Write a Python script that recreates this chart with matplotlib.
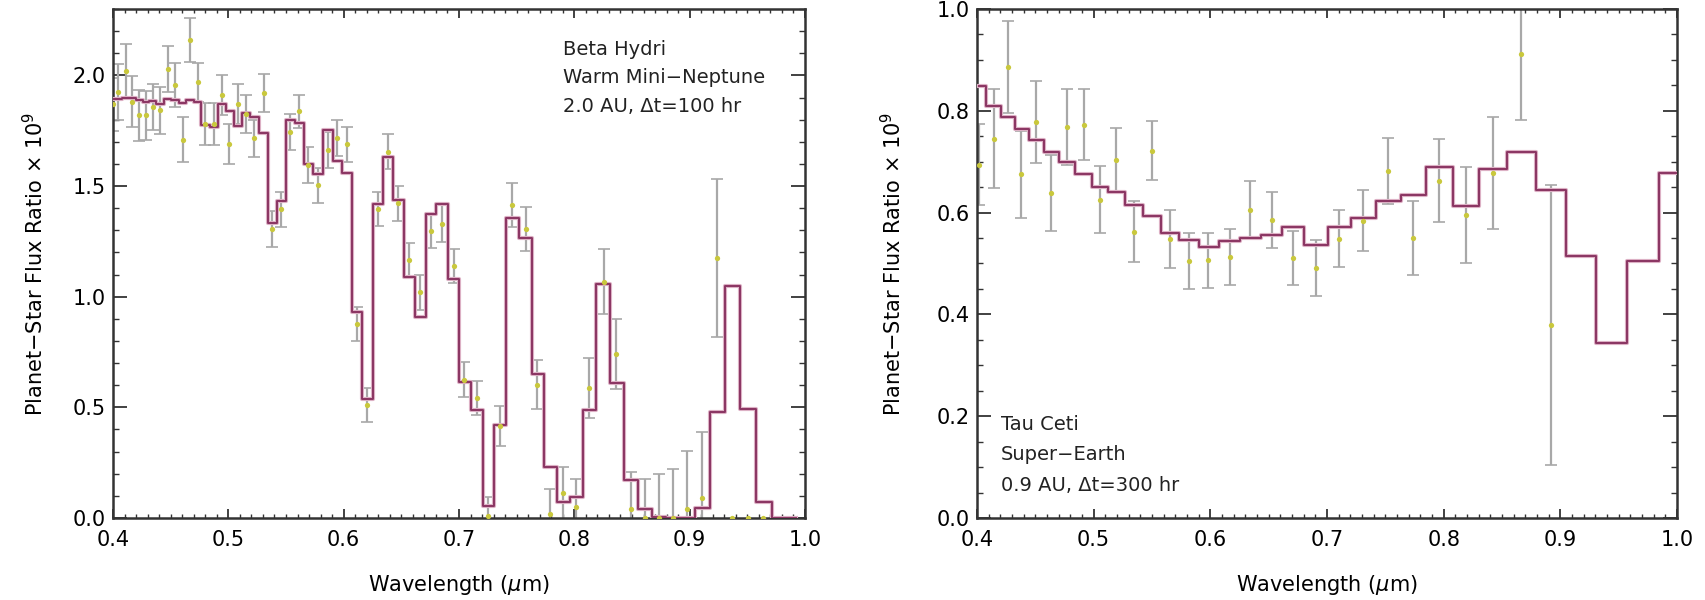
import matplotlib
matplotlib.use('Agg')
import matplotlib.pyplot as plt
from matplotlib.ticker import MultipleLocator
import numpy as np

# Beta Hydri, warm mini-Neptune: binned spectrum + model
wl_beta = [0.400, 0.4046, 0.411, 0.4168, 0.4228, 0.4286, 0.4344, 0.4408, 0.4474, 0.454,
           0.4604, 0.4668, 0.4734, 0.480, 0.4876, 0.4945, 0.5009, 0.5081, 0.5153, 0.5226,
           0.5307, 0.5382, 0.546, 0.5535, 0.5613, 0.5694, 0.5781, 0.5862, 0.5946, 0.603,
           0.6113, 0.6206, 0.6296, 0.6382, 0.6475, 0.657, 0.6663, 0.6758, 0.685, 0.6957,
           0.7047, 0.7154, 0.7255, 0.7356, 0.7463, 0.7579, 0.768, 0.779, 0.7906, 0.8013,
           0.8131, 0.8253, 0.8363, 0.849, 0.8617, 0.873, 0.8854, 0.8976, 0.9111, 0.924,
           0.9366, 0.951, 0.964]
flux_beta = [1.87, 1.925, 2.02, 1.88, 1.82, 1.82, 1.856, 1.842, 2.03, 1.955,
             1.71, 2.16, 1.968, 1.78, 1.78, 1.91, 1.69, 1.87, 1.826, 1.715,
             1.92, 1.305, 1.395, 1.745, 1.838, 1.595, 1.503, 1.662, 1.718, 1.688,
             0.877, 0.509, 1.395, 1.655, 1.422, 1.167, 1.019, 1.297, 1.33, 1.137,
             0.625, 0.542, 0.01, 0.414, 1.414, 1.305, 0.602, 0.02, 0.114, 0.051,
             0.587, 1.068, 0.742, 0.04, 0.0, 0.0, 0.0, 0.039, 0.089, 1.173,
             0.0, 0.0, 0.0]
err_beta = [0.12, 0.125, 0.12, 0.115, 0.115, 0.11, 0.105, 0.105, 0.105, 0.10,
            0.10, 0.098, 0.09, 0.093, 0.094, 0.09, 0.09, 0.09, 0.085, 0.085,
            0.085, 0.08, 0.08, 0.08, 0.075, 0.08, 0.08, 0.08, 0.08, 0.08,
            0.077, 0.077, 0.077, 0.08, 0.08, 0.077, 0.077, 0.079, 0.083, 0.077,
            0.079, 0.078, 0.085, 0.09, 0.098, 0.10, 0.11, 0.11, 0.117, 0.124,
            0.137, 0.146, 0.158, 0.168, 0.176, 0.197, 0.22, 0.264, 0.30, 0.357,
            0.0, 0.0, 0.0]
model_wl_beta = wl_beta + [0.978, 0.992]
model_beta = [1.895, 1.895, 1.90, 1.90, 1.89, 1.88, 1.885, 1.87, 1.895, 1.888,
              1.876, 1.89, 1.88, 1.777, 1.765, 1.87, 1.84, 1.77, 1.83, 1.81,
              1.74, 1.335, 1.432, 1.80, 1.785, 1.60, 1.553, 1.755, 1.613, 1.557,
              0.929, 0.536, 1.417, 1.63, 1.437, 1.087, 0.907, 1.372, 1.417, 1.08,
              0.615, 0.49, 0.055, 0.42, 1.357, 1.264, 0.65, 0.23, 0.072, 0.094,
              0.487, 1.057, 0.61, 0.171, 0.039, 0.005, 0.0, 0.0, 0.046, 0.479,
              1.05, 0.494, 0.073, 0.0, 0.0]

# Tau Ceti, super-Earth
wl_tau = [0.402, 0.4142, 0.4265, 0.438, 0.4508, 0.4637, 0.4771, 0.4914, 0.5052, 0.5189,
          0.5343, 0.55, 0.5652, 0.5818, 0.5981, 0.6167, 0.6339, 0.6525, 0.6706, 0.6906,
          0.7106, 0.7312, 0.7521, 0.7741, 0.7964, 0.8191, 0.8422, 0.8665, 0.892]
flux_tau = [0.694, 0.745, 0.886, 0.675, 0.778, 0.638, 0.768, 0.773, 0.625, 0.703,
            0.562, 0.722, 0.549, 0.505, 0.506, 0.512, 0.606, 0.586, 0.51, 0.492,
            0.549, 0.584, 0.682, 0.55, 0.663, 0.595, 0.677, 0.911, 0.38]
err_tau = [0.08, 0.097, 0.09, 0.085, 0.08, 0.075, 0.074, 0.069, 0.066, 0.064,
           0.06, 0.058, 0.057, 0.055, 0.054, 0.055, 0.056, 0.055, 0.053, 0.055,
           0.056, 0.06, 0.065, 0.073, 0.082, 0.094, 0.11, 0.13, 0.275]
model_wl_tau = wl_tau + [0.9175, 0.9436, 0.971, 0.999]
model_tau = [0.849, 0.81, 0.788, 0.765, 0.742, 0.72, 0.699, 0.675, 0.65, 0.64,
             0.615, 0.593, 0.559, 0.546, 0.533, 0.544, 0.551, 0.556, 0.572, 0.536,
             0.572, 0.589, 0.623, 0.634, 0.69, 0.613, 0.686, 0.72, 0.645, 0.515,
             0.344, 0.504, 0.677]

label_beta = ['Beta Hydri', 'Warm Mini\u2212Neptune', '2.0 AU, \u0394t=100 hr']
label_tau = ['Tau Ceti', 'Super\u2212Earth', '0.9 AU, \u0394t=300 hr']

plt.rcParams['font.family'] = ['DejaVu Sans']
plt.rcParams['font.size'] = 15

fig = plt.figure(figsize=(17.06, 6), dpi=100)
ax1 = fig.add_axes([113 / 1706, 82 / 600, 692 / 1706, 509 / 600])
ax2 = fig.add_axes([977 / 1706, 82 / 600, 700 / 1706, 509 / 600])


def draw_panel(ax, wl, flux, err, mwl, model):
    wl = np.asarray(wl)
    flux = np.asarray(flux)
    err = np.asarray(err)
    has_err = err > 0
    eb = ax.errorbar(wl[has_err], flux[has_err], yerr=err[has_err], fmt='none',
                     ecolor='#a8a8a8', elinewidth=1.6, capsize=4, capthick=1.2, zorder=2)
    for cap in eb[1]:
        cap.set_color('#555555')
    # model spectrum: soft pink halo under a thin maroon stroke
    ax.step(mwl, model, where='mid', color='#dcb0c4', lw=3.0, zorder=3)
    ax.step(mwl, model, where='mid', color='#8a3462', lw=1.4, zorder=3)
    ax.plot(wl, flux, 'o', color='#c9c83c', ms=3.8, mec='none', zorder=4)
    ax.set_xlim(0.4, 1.0)
    ax.set_xticks([0.4, 0.5, 0.6, 0.7, 0.8, 0.9, 1.0])
    ax.xaxis.set_minor_locator(MultipleLocator(0.01))
    ax.tick_params(which='both', direction='in', top=True, right=True,
                   color='#333333', labelsize=15)
    ax.tick_params(axis='x', which='major', length=6.5, width=1.3, pad=9)
    ax.tick_params(axis='x', which='minor', length=3, width=1.0)
    ax.tick_params(axis='y', which='major', length=10, width=1.3, pad=5)
    ax.tick_params(axis='y', which='minor', length=4.5, width=1.0)
    for sp in ax.spines.values():
        sp.set_linewidth(1.8)
        sp.set_color('#333333')
    ax.set_xlabel('Wavelength ($\\mu$m)', fontsize=15)
    ax.set_ylabel('Planet\u2212Star Flux Ratio \u00d7 10$^9$', fontsize=15)
    ax.xaxis.set_label_coords(0.5, -0.108)
    ax.xaxis.label.set_va('top')


draw_panel(ax1, wl_beta, flux_beta, err_beta, model_wl_beta, model_beta)
ax1.set_ylim(0, 2.3)
ax1.yaxis.set_major_locator(MultipleLocator(0.5))
ax1.yaxis.set_minor_locator(MultipleLocator(0.1))
ax1.yaxis.set_label_coords(-0.095, 0.5)
for i, line in enumerate(label_beta):
    ax1.text(0.65, [0.9096, 0.8546, 0.7976][i], line, transform=ax1.transAxes,
             fontsize=14, va='baseline', ha='left', color='#222222')

draw_panel(ax2, wl_tau, flux_tau, err_tau, model_wl_tau, model_tau)
ax2.set_ylim(0, 1.0)
ax2.yaxis.set_major_locator(MultipleLocator(0.2))
ax2.yaxis.set_minor_locator(MultipleLocator(0.05))
ax2.yaxis.set_label_coords(-0.103, 0.5)
for i, line in enumerate(label_tau):
    ax2.text(0.034, [0.173, 0.114, 0.053][i], line, transform=ax2.transAxes,
             fontsize=14, va='baseline', ha='left', color='#222222')

plt.savefig('out.png', dpi=100)
